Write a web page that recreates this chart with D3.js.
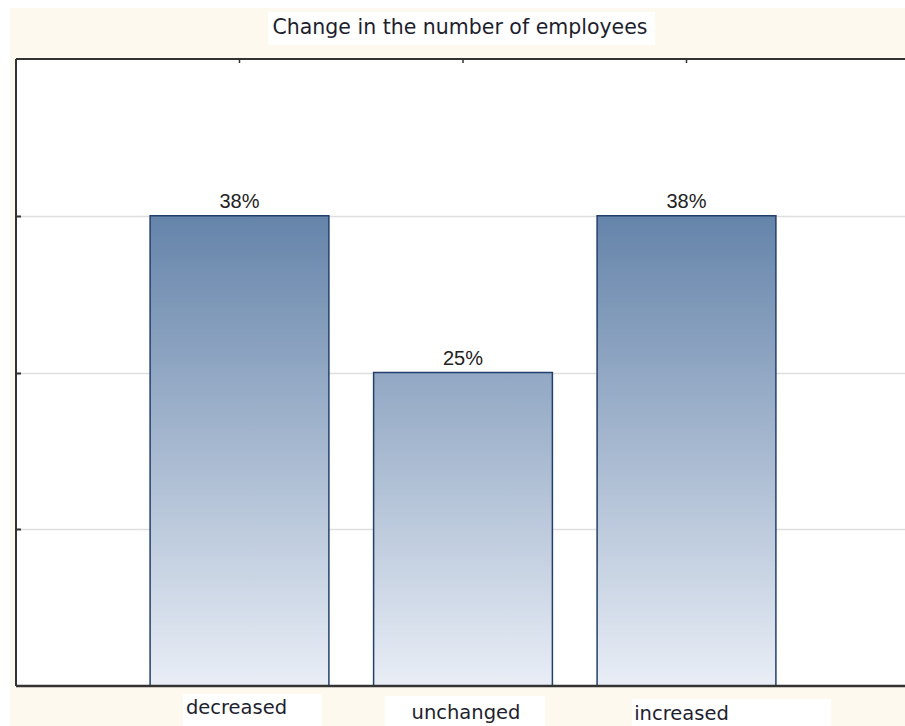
<!DOCTYPE html>
<html>
<head>
<meta charset="utf-8">
<script src="https://cdn.jsdelivr.net/npm/d3@7"></script>
<style>
  html, body { margin: 0; padding: 0; background: #ffffff; }
</style>
</head>
<body>
<div id="chart"></div>
<script>
const categories = ['decreased', 'unchanged', 'increased'];
const values = [0.375, 0.25, 0.375];
const valueLabels = ['38%', '25%', '38%'];
const yTicks = [0.125, 0.25, 0.375];
const title = 'Change in the number of employees';

const width = 905, height = 726;
const plot = { left: 16, top: 59, right: 910, bottom: 686 };

const svg = d3.select('#chart').append('svg')
  .attr('width', width)
  .attr('height', height);

// cream frame
svg.append('rect')
  .attr('x', 10).attr('y', 8)
  .attr('width', width - 10).attr('height', height - 8)
  .attr('fill', '#fef9ee');

const x = d3.scaleLinear().domain([0, categories.length + 1]).range([plot.left, plot.right]);
const y = d3.scaleLinear().domain([0, 0.5]).range([plot.bottom, plot.top]);
const barW = (x(1) - x(0)) * 0.8;

const defs = svg.append('defs');
const grad = defs.append('linearGradient')
  .attr('id', 'barGrad')
  .attr('gradientUnits', 'userSpaceOnUse')
  .attr('x1', 0).attr('x2', 0)
  .attr('y1', y(0.375)).attr('y2', y(0));
grad.append('stop').attr('offset', '0%').attr('stop-color', '#6584aa');
grad.append('stop').attr('offset', '100%').attr('stop-color', '#e9eef6');

// plot area
svg.append('rect')
  .attr('x', plot.left).attr('y', plot.top)
  .attr('width', width - plot.left).attr('height', plot.bottom - plot.top)
  .attr('fill', '#ffffff');

// gridlines
svg.append('g')
  .selectAll('line')
  .data(yTicks)
  .join('line')
  .attr('x1', plot.left).attr('x2', width)
  .attr('y1', (d) => Math.round(y(d)) + 0.5)
  .attr('y2', (d) => Math.round(y(d)) + 0.5)
  .attr('stroke', '#dedede')
  .attr('stroke-width', 1.5);

// bars
svg.append('g')
  .selectAll('rect')
  .data(values)
  .join('rect')
  .attr('x', (d, i) => x(i + 1) - barW / 2)
  .attr('y', (d) => y(d))
  .attr('width', barW)
  .attr('height', (d) => y(0) - y(d))
  .attr('fill', 'url(#barGrad)')
  .attr('stroke', '#233f6b')
  .attr('stroke-width', 1.5);

// value labels
svg.append('g')
  .selectAll('text')
  .data(values)
  .join('text')
  .attr('x', (d, i) => x(i + 1))
  .attr('y', (d) => y(d) - 8)
  .attr('text-anchor', 'middle')
  .attr('font-family', '"Liberation Sans", Arial, sans-serif')
  .attr('font-size', 20)
  .attr('fill', '#222')
  .text((d, i) => valueLabels[i]);

// axes frame
const axisColor = '#333';
svg.append('line')
  .attr('x1', plot.left).attr('x2', width)
  .attr('y1', plot.top).attr('y2', plot.top)
  .attr('stroke', axisColor).attr('stroke-width', 2);
svg.append('line')
  .attr('x1', plot.left).attr('x2', width)
  .attr('y1', plot.bottom).attr('y2', plot.bottom)
  .attr('stroke', axisColor).attr('stroke-width', 2.5);
svg.append('line')
  .attr('x1', plot.left).attr('x2', plot.left)
  .attr('y1', plot.top).attr('y2', plot.bottom)
  .attr('stroke', axisColor).attr('stroke-width', 2);

// left inner ticks
svg.append('g')
  .selectAll('line')
  .data(yTicks)
  .join('line')
  .attr('x1', plot.left).attr('x2', plot.left + 5)
  .attr('y1', (d) => Math.round(y(d)) + 0.5)
  .attr('y2', (d) => Math.round(y(d)) + 0.5)
  .attr('stroke', axisColor).attr('stroke-width', 2);

// top inner ticks
svg.append('g')
  .selectAll('line')
  .data(categories)
  .join('line')
  .attr('x1', (d, i) => x(i + 1)).attr('x2', (d, i) => x(i + 1))
  .attr('y1', plot.top).attr('y2', plot.top + 4)
  .attr('stroke', axisColor).attr('stroke-width', 1.5);

// category labels with white boxes (slightly staggered)
const labelOffsets = [
  { dx: -3, y: 714, box: [183, 694, 139, 32] },
  { dx: 3, y: 719, box: [385, 696, 160, 30] },
  { dx: -5, y: 720, box: [632, 699, 199, 27] }
];
const catG = svg.append('g');
categories.forEach((c, i) => {
  const o = labelOffsets[i];
  catG.append('rect')
    .attr('x', o.box[0]).attr('y', o.box[1])
    .attr('width', o.box[2]).attr('height', o.box[3])
    .attr('fill', '#ffffff');
  catG.append('text')
    .attr('x', x(i + 1) + o.dx)
    .attr('y', o.y)
    .attr('text-anchor', 'middle')
    .attr('font-family', '"DejaVu Sans", sans-serif')
    .attr('font-size', 19.5)
    .attr('fill', '#1e1e2e')
    .text(c);
});

// title
svg.append('rect')
  .attr('x', 268).attr('y', 12)
  .attr('width', 387).attr('height', 33)
  .attr('fill', '#ffffff');
svg.append('text')
  .attr('x', 460).attr('y', 34)
  .attr('text-anchor', 'middle')
  .attr('font-family', '"DejaVu Sans", sans-serif')
  .attr('font-size', 20.5)
  .attr('fill', '#1e1e2e')
  .text(title);
</script>
</body>
</html>
